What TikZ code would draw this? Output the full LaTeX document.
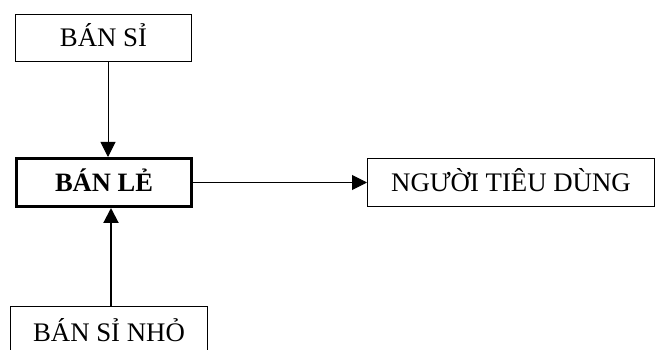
\documentclass[tikz,border=0pt]{standalone}
\usepackage{fontspec}
\setmainfont{Liberation Serif}
\usetikzlibrary{arrows.meta}
\begin{document}
\begin{tikzpicture}[x=1pt,y=-1pt,
  box/.style={draw=black,line width=1pt,inner sep=0pt,text height=17.5pt,text depth=0pt,
    font=\fontsize{26.8}{30}\selectfont},
  conn/.style={line width=1pt,-{Triangle[length=15pt,width=15pt]}}]
\clip (0,0) rectangle (657,350);
\fill[white] (0,0) rectangle (657,350);
\node[box,minimum width=176pt,minimum height=47pt] (si) at (103.5,38) {BÁN SỈ};
\node[box,line width=3pt,minimum width=175pt,minimum height=48pt,font=\fontsize{26.5}{30}\selectfont\bfseries] (le) at (104,182.5) {BÁN LẺ};
\node[box,minimum width=287pt,minimum height=48pt] (ntd) at (511,182.5) {NGƯỜI TIÊU DÙNG};
\node[box,minimum width=197pt,minimum height=51pt] (nho) at (109,332.5) {BÁN SỈ NHỎ};
\draw[conn] (108,0 |- si.south) -- (108,0 |- le.north);
\draw[conn] (le.east) -- (ntd.west);
\draw[conn,line width=2pt] (111,0 |- nho.north) -- (111,0 |- le.south);
\end{tikzpicture}
\end{document}
